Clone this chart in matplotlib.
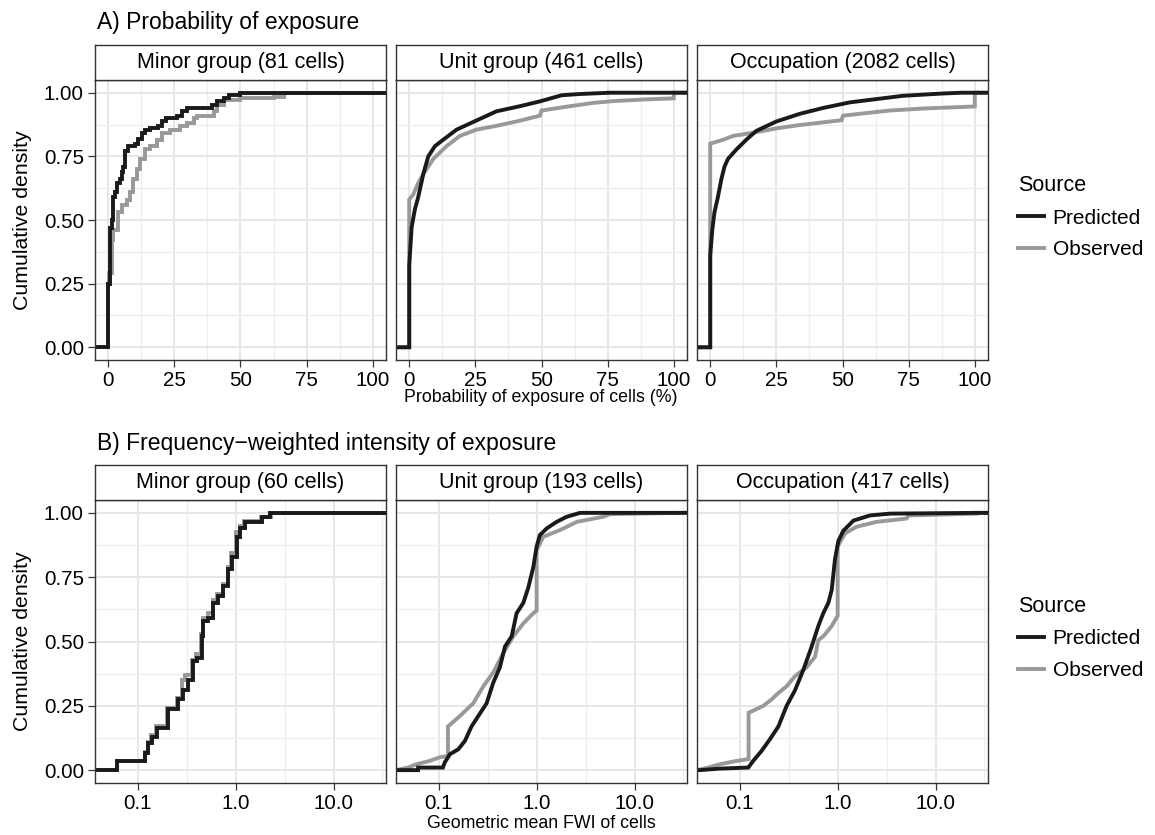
import numpy as np
import matplotlib
matplotlib.use("Agg")
from matplotlib import pyplot as plt
from matplotlib.lines import Line2D

plt.rcParams['font.family'] = ['Liberation Sans', 'DejaVu Sans']

# ---- data (ECDF curves) ----
strip_top = ["Minor group (81 cells)", "Unit group (461 cells)", "Occupation (2082 cells)"]
strip_bot = ["Minor group (60 cells)", "Unit group (193 cells)", "Occupation (417 cells)"]
sources = ["Predicted", "Observed"]

# A) probability of exposure (%)
a_minor_pred_x = [0, 0.63, 1.27, 1.9, 2.5, 3.2, 4.4, 5.1, 5.7, 6.3, 7.6, 10.1, 11.4, 12.7, 13.9, 15.8,
                  19.0, 20.3, 21.9, 26.0, 27.8, 29.7, 39.2, 41.1, 43.7, 45.6, 50.0]
a_minor_pred_y = [0.25, 0.47, 0.50, 0.59, 0.61, 0.645, 0.66, 0.69, 0.71, 0.77, 0.79, 0.80, 0.82, 0.84,
                  0.855, 0.86, 0.87, 0.89, 0.90, 0.91, 0.927, 0.94, 0.953, 0.966, 0.979, 0.99, 1.0]
a_minor_obs_x = [0, 0.4, 1.3, 1.9, 3.8, 5.1, 7.0, 8.2, 9.5, 10.8, 12.0, 13.9, 15.8, 18.4, 20.3, 23.4,
                 27.2, 29.7, 32.3, 33.5, 39.9, 41.1, 43.7, 50.0, 62.7, 66.5]
a_minor_obs_y = [0.25, 0.29, 0.42, 0.46, 0.53, 0.56, 0.58, 0.61, 0.66, 0.70, 0.74, 0.78, 0.79, 0.815,
                 0.84, 0.855, 0.87, 0.88, 0.90, 0.91, 0.93, 0.95, 0.97, 0.98, 0.985, 1.0]

a_unit_pred_x = [0, 0, 0.9, 2.1, 3.4, 5.3, 7.2, 9.7, 12.8, 17.9, 24.8, 33.0, 41.8, 49.4, 57.6, 64.5, 75.8]
a_unit_pred_y = [0, 0.32, 0.47, 0.54, 0.59, 0.68, 0.75, 0.79, 0.815, 0.855, 0.888, 0.927, 0.947, 0.966,
                 0.99, 0.995, 1.0]
a_unit_obs_x = [0, 0, 1.5, 3.4, 5.3, 9.1, 14.1, 19.1, 25.4, 33.0, 41.8, 49.4, 50.0, 59.4, 69.5, 77.0,
                89.7, 100, 100]
a_unit_obs_y = [0, 0.58, 0.60, 0.645, 0.68, 0.74, 0.79, 0.83, 0.855, 0.87, 0.89, 0.91, 0.93, 0.945,
                0.96, 0.967, 0.974, 0.978, 1.0]

a_occ_pred_x = [0, 0, 0.76, 1.6, 2.9, 4.2, 5.4, 6.7, 9.8, 13.6, 17.4, 25.0, 33.8, 42.6, 52.7, 62.8,
                72.9, 88.0, 95.0]
a_occ_pred_y = [0, 0.36, 0.46, 0.53, 0.59, 0.66, 0.71, 0.74, 0.776, 0.815, 0.85, 0.887, 0.917, 0.94,
                0.962, 0.975, 0.988, 0.997, 1.0]
a_occ_obs_x = [0, 0, 4.8, 8.6, 17.4, 25.0, 33.8, 49.6, 50.2, 67.8, 80.5, 100, 100]
a_occ_obs_y = [0, 0.80, 0.815, 0.83, 0.845, 0.86, 0.873, 0.892, 0.91, 0.93, 0.938, 0.946, 1.0]

# B) geometric mean FWI
b_minor_pred_x = [0.061, 0.118, 0.128, 0.138, 0.156, 0.205, 0.259, 0.292, 0.328, 0.369, 0.399, 0.449,
                  0.467, 0.526, 0.591, 0.665, 0.748, 0.841, 0.910, 1.02, 1.11, 1.25, 1.84, 2.24]
b_minor_pred_y = [0.035, 0.068, 0.107, 0.13, 0.165, 0.236, 0.275, 0.313, 0.35, 0.423, 0.436, 0.52,
                  0.578, 0.59, 0.65, 0.675, 0.714, 0.78, 0.83, 0.907, 0.94, 0.965, 0.985, 1.0]
b_minor_obs_x = [0.061, 0.118, 0.126, 0.136, 0.152, 0.200, 0.250, 0.285, 0.300, 0.360, 0.390, 0.440,
                 0.460, 0.520, 0.580, 0.650, 0.735, 0.830, 0.900, 1.00, 1.10, 1.22, 1.80, 2.30]
b_minor_obs_y = [0.035, 0.07, 0.11, 0.135, 0.17, 0.24, 0.28, 0.35, 0.37, 0.43, 0.45, 0.53, 0.59,
                 0.61, 0.66, 0.685, 0.725, 0.79, 0.845, 0.925, 0.95, 0.968, 0.985, 1.0]

b_unit_pred_x = [0.0614, 0.0614, 0.11, 0.115, 0.130, 0.158, 0.185, 0.216, 0.263, 0.308, 0.360, 0.421,
                 0.474, 0.555, 0.624, 0.730, 0.822, 0.925, 1.0, 1.08, 1.27, 1.60, 2.03, 2.78]
b_unit_pred_y = [0, 0.01, 0.01, 0.03, 0.062, 0.081, 0.114, 0.17, 0.22, 0.26, 0.34, 0.40, 0.48, 0.52,
                 0.61, 0.65, 0.71, 0.79, 0.87, 0.914, 0.94, 0.965, 0.985, 1.0]
b_unit_obs_x = [0.0485, 0.059, 0.081, 0.102, 0.124, 0.124, 0.164, 0.225, 0.284, 0.360, 0.456, 0.577,
                0.730, 0.925, 1.0, 1.0, 1.17, 1.73, 2.57, 4.82, 5.63, 27.1]
b_unit_obs_y = [0.01, 0.023, 0.036, 0.05, 0.055, 0.17, 0.21, 0.26, 0.325, 0.38, 0.455, 0.52, 0.57,
                0.61, 0.62, 0.855, 0.907, 0.933, 0.965, 0.985, 0.995, 1.0]

b_occ_pred_x = [0.039, 0.0627, 0.122, 0.137, 0.167, 0.203, 0.248, 0.301, 0.366, 0.446, 0.542, 0.634,
                0.713, 0.803, 0.869, 0.939, 1.016, 1.14, 1.45, 2.14, 3.43, 26.0]
b_occ_pred_y = [0.0, 0.006, 0.01, 0.036, 0.075, 0.12, 0.17, 0.25, 0.31, 0.39, 0.48, 0.56, 0.61, 0.65,
                0.70, 0.82, 0.89, 0.93, 0.97, 0.99, 0.997, 1.0]
b_occ_obs_x = [0.0476, 0.0627, 0.0928, 0.123, 0.123, 0.174, 0.211, 0.248, 0.301, 0.366, 0.482, 0.586,
               0.634, 0.713, 0.869, 1.0, 1.0, 1.19, 1.56, 2.50, 5.07, 5.28, 26.3, 26.3]
b_occ_obs_y = [0.01, 0.023, 0.036, 0.043, 0.223, 0.25, 0.275, 0.30, 0.326, 0.365, 0.40, 0.44, 0.505,
               0.52, 0.56, 0.60, 0.87, 0.92, 0.946, 0.965, 0.978, 0.99, 0.997, 1.0]

top_series = [
    ((a_minor_pred_x, a_minor_pred_y), (a_minor_obs_x, a_minor_obs_y), True),
    ((a_unit_pred_x, a_unit_pred_y), (a_unit_obs_x, a_unit_obs_y), False),
    ((a_occ_pred_x, a_occ_pred_y), (a_occ_obs_x, a_occ_obs_y), False),
]
bot_series = [
    ((b_minor_pred_x, b_minor_pred_y), (b_minor_obs_x, b_minor_obs_y), True),
    ((b_unit_pred_x, b_unit_pred_y), (b_unit_obs_x, b_unit_obs_y), False),
    ((b_occ_pred_x, b_occ_pred_y), (b_occ_obs_x, b_occ_obs_y), False),
]

col_pred = '#1a1a1a'
col_obs = '#999999'
border = '#333333'
lw = 2.8

W, H = 1155, 835
fig = plt.figure(figsize=(W / 100, H / 100), dpi=100)


def box(x0, y0, x1, y1):
    return [x0 / W, 1 - y1 / H, (x1 - x0) / W, (y1 - y0) / H]


def draw(ax, x, y, color, steps):
    lo, hi = ax.get_xlim()
    xx = [lo] + list(x) + [hi]
    yy = [0] + list(y) + [y[-1]]
    ds = 'steps-post' if steps else 'default'
    ax.plot(xx, yy, color=color, lw=lw, drawstyle=ds, solid_joinstyle='miter',
            solid_capstyle='butt', clip_on=True)


cols_x = [(95, 386), (396, 687), (697, 988)]
rows = [dict(strip=(45, 80), panel=(80, 360), series=top_series, strips=strip_top, log=False),
        dict(strip=(465, 500), panel=(500, 783), series=bot_series, strips=strip_bot, log=True)]

for row in rows:
    for i, (x0, x1) in enumerate(cols_x):
        ax = fig.add_axes(box(x0, row['panel'][0], x1, row['panel'][1]))
        if row['log']:
            ax.set_xscale('log')
            ax.set_xlim(0.0365, 34.4)
            ax.set_xticks([0.1, 1, 10])
            ax.set_xticklabels(['0.1', '1.0', '10.0'])
            ax.set_xticks([10 ** -0.5, 10 ** 0.5, 10 ** 1.5], minor=True)
            ax.xaxis.set_minor_formatter(plt.NullFormatter())
        else:
            ax.set_xlim(-5, 105)
            ax.set_xticks([0, 25, 50, 75, 100])
            ax.set_xticks([12.5, 37.5, 62.5, 87.5], minor=True)
        ax.set_ylim(-0.05, 1.05)
        ax.set_yticks([0, 0.25, 0.5, 0.75, 1.0])
        ax.set_yticklabels(['0.00', '0.25', '0.50', '0.75', '1.00'])
        ax.set_yticks([0.125, 0.375, 0.625, 0.875], minor=True)
        ax.grid(which='major', color='#e6e6e6', lw=1.4)
        ax.grid(which='minor', color='#eeeeee', lw=0.9)
        ax.set_axisbelow(True)
        for s in ax.spines.values():
            s.set_color(border)
            s.set_linewidth(1.0)
        ax.tick_params(which='major', direction='out', length=5, width=0.9, color=border,
                       labelsize=14.8, pad=3, labelcolor='black')
        ax.tick_params(which='minor', length=0)
        if i > 0:
            ax.tick_params(axis='y', left=False, labelleft=False)

        (px, py), (ox, oy), steps = row['series'][i]
        draw(ax, ox, oy, col_obs, steps)
        draw(ax, px, py, col_pred, steps)

        sax = fig.add_axes(box(x0, row['strip'][0], x1, row['strip'][1]))
        sax.set_xticks([])
        sax.set_yticks([])
        sax.set_facecolor('white')
        for s in sax.spines.values():
            s.set_color(border)
            s.set_linewidth(1.0)
        sax.text(0.5, 0.5, row['strips'][i], ha='center', va='center', fontsize=15.5,
                 transform=sax.transAxes)

    # y label
    yc = (row['panel'][0] + row['panel'][1]) / 2
    fig.text(23 / W, 1 - yc / H, 'Cumulative density', rotation=90, ha='center', va='center',
             fontsize=15.3)

fig.text(97 / W, 1 - 29 / H, 'A) Probability of exposure', fontsize=16.5, va='baseline')
fig.text(97 / W, 1 - 450 / H, 'B) Frequency\u2212weighted intensity of exposure', fontsize=16.5,
         va='baseline')
fig.text(541 / W, 1 - 397 / H, 'Probability of exposure of cells (%)', ha='center', va='center',
         fontsize=12.8)
fig.text(541 / W, 1 - 824 / H, 'Geometric mean FWI of cells', ha='center', va='center',
         fontsize=12.8)

handles = [Line2D([], [], color=col_pred, lw=lw), Line2D([], [], color=col_obs, lw=lw)]
for yc in [217, 638]:
    leg = fig.legend(handles, sources, title='Source', loc='center left',
                     bbox_to_anchor=(1010 / W, 1 - yc / H), frameon=False, fontsize=15,
                     title_fontsize=15.5, handlelength=1.25, handletextpad=0.4,
                     labelspacing=0.6, alignment='left', borderaxespad=0)

fig.savefig('out.png', dpi=100)
